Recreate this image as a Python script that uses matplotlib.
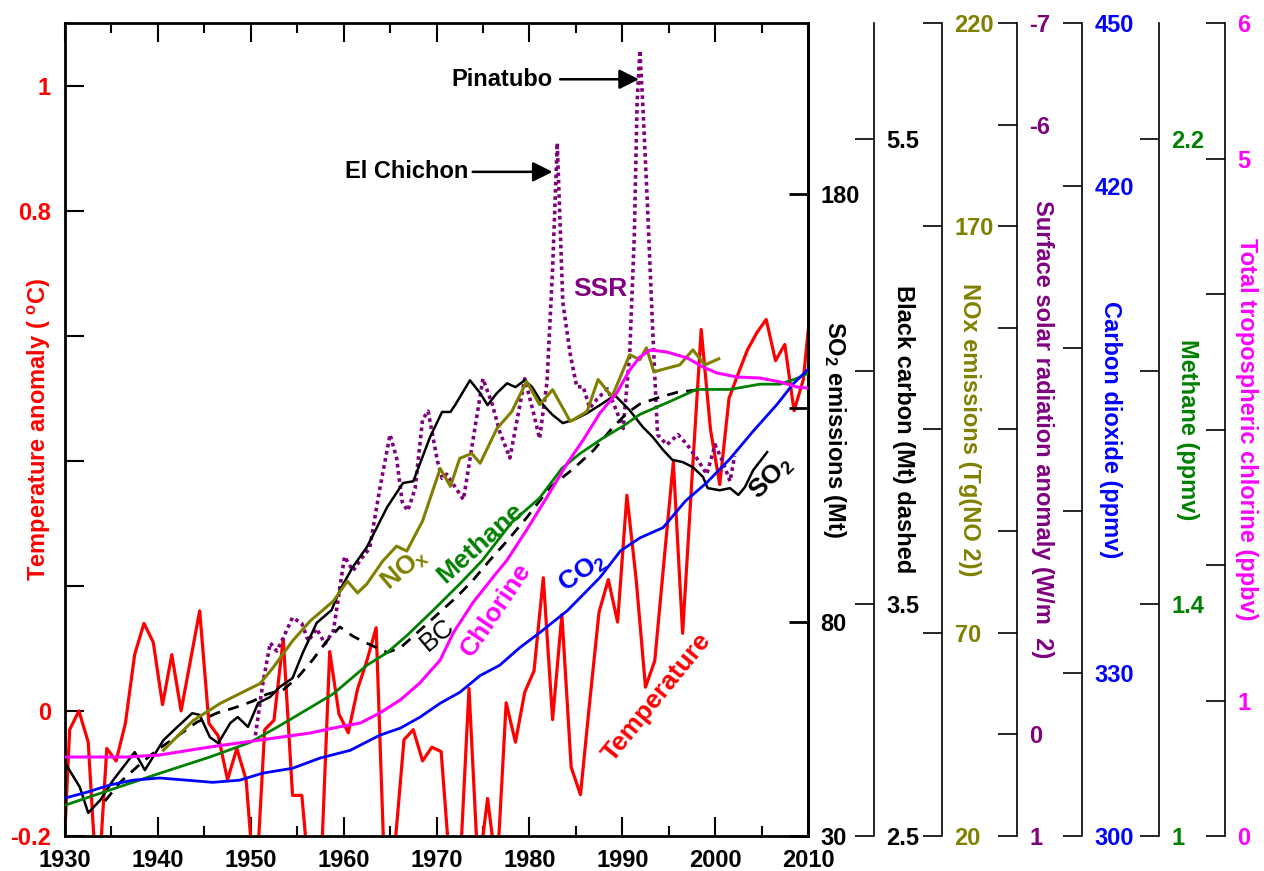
import numpy as np
import matplotlib
matplotlib.use('Agg')
import matplotlib.pyplot as plt
from matplotlib.ticker import FixedLocator, FixedFormatter, MultipleLocator

plt.rcParams['font.family'] = ['Liberation Sans', 'DejaVu Sans']
plt.rcParams['font.weight'] = 'bold'
plt.rcParams['axes.labelweight'] = 'bold'
plt.rcParams['mathtext.default'] = 'regular'

# --- data ---
# temperature anomaly (deg C), plotted at mid-year
temp_years = np.arange(1929.5, 2011.0, 1.0)
temp_vals = [-0.35,
             -0.03, 0.00, -0.05, -0.30, -0.06, -0.08, -0.02, 0.09, 0.14, 0.11,
             0.01, 0.09, 0.00, 0.08, 0.16, -0.02, -0.04, -0.11, -0.06, -0.11,
             -0.30, -0.03, -0.015, 0.115, -0.135, -0.135, -0.30, -0.28, 0.095, -0.005,
             -0.035, 0.035, 0.08, 0.133, -0.30, -0.22, -0.046, -0.03, -0.08, -0.058,
             -0.065, -0.26, -0.26, 0.036, -0.26, -0.14, -0.26, 0.013, -0.05, 0.03,
             0.064, 0.213, -0.014, 0.154, -0.09, -0.134, 0.015, 0.158, 0.21, 0.142,
             0.345, 0.21, 0.038, 0.08, 0.24, 0.398, 0.124, 0.37, 0.61, 0.45,
             0.362, 0.50, 0.54, 0.578, 0.605, 0.626, 0.56, 0.586, 0.48, 0.53,
             0.68]

# SO2 emissions (Mt)
so2_years = [1930.0, 1931.6, 1932.5, 1933.8, 1935.2, 1937.5, 1938.6, 1940.6, 1942.1, 1943.7,
             1944.5, 1945.6, 1946.5, 1947.8, 1948.6, 1949.7, 1950.8, 1952.1, 1953.1, 1954.5,
             1955.6, 1957.1, 1958.7, 1959.6, 1961.0, 1962.5, 1964.7, 1966.4, 1967.5, 1969.3,
             1970.6, 1971.5, 1972.0, 1973.6, 1974.7, 1975.5, 1976.5, 1977.6, 1978.5, 1979.5,
             1980.3, 1981.5, 1982.5, 1983.6, 1984.7, 1986.2, 1987.6, 1989.2, 1990.8, 1992.2,
             1993.3, 1994.4, 1995.4, 1996.5, 1997.6, 1998.7, 1999.2, 2000.5, 2001.6, 2002.5,
             2003.2, 2004.1, 2005.6]
so2_vals = [47.1, 41.4, 35.4, 38.4, 43.1, 49.6, 45.4, 52.4, 55.5, 58.7,
            58.3, 53.1, 51.7, 56.4, 57.8, 55.5, 61.1, 62.5, 64.8, 66.9,
            72.8, 79.8, 82.8, 87.5, 92.9, 97.5, 106.9, 112.5, 112.9, 123.2,
            129.1, 129.1, 130.7, 136.5, 133.5, 130.7, 133.5, 135.8, 134.9, 136.5,
            134.9, 130.7, 128.4, 126.5, 127.2, 128.8, 130.7, 133.0, 129.5, 125.6,
            123.2, 120.2, 117.9, 117.4, 116.2, 113.9, 111.3, 110.8, 111.3, 109.7,
            111.5, 115.5, 119.7]

# black carbon (Mt)
bc_years = [1934.3, 1935.9, 1938.1, 1939.9, 1942.1, 1944.2, 1946.4, 1948.1, 1950.2, 1951.7,
            1953.5, 1955.0, 1956.7, 1958.2, 1959.6, 1961.0, 1962.5, 1963.6, 1964.7, 1966.1,
            1967.5, 1972.2, 1973.9, 1975.8, 1977.6, 1979.7, 1982.2, 1984.7, 1986.9, 1989.0,
            1990.5, 1991.9, 1994.1, 1995.9, 1998.0]
bc_vals = [2.65, 2.73, 2.81, 2.87, 2.93, 2.99, 3.03, 3.05, 3.08, 3.11,
           3.13, 3.18, 3.26, 3.34, 3.40, 3.36, 3.33, 3.31, 3.29, 3.31,
           3.36, 3.53, 3.60, 3.69, 3.77, 3.87, 4.00, 4.08, 4.16, 4.26,
           4.32, 4.36, 4.39, 4.41, 4.42]

# NOx emissions (Tg NO2)
nox_years = [1940.6, 1943.8, 1946.7, 1948.8, 1951.0, 1952.4, 1954.5, 1956.4, 1958.9, 1960.4,
             1961.5, 1962.5, 1964.2, 1965.7, 1966.8, 1968.5, 1970.4, 1971.5, 1972.5, 1973.8,
             1974.7, 1976.5, 1978.1, 1979.7, 1981.1, 1982.5, 1984.4, 1986.2, 1987.4, 1988.9,
             1990.8, 1991.9, 1992.6, 1993.4, 1996.2, 1997.6, 1998.9, 2000.4]
nox_vals = [41.1, 48.4, 52.6, 55.0, 57.5, 61.4, 68.0, 72.9, 77.8, 82.7,
            79.8, 82.0, 87.6, 91.3, 90.1, 97.5, 110.4, 106.0, 112.9, 114.1,
            111.7, 120.2, 124.4, 131.8, 126.1, 129.8, 122.0, 124.4, 132.3, 128.1,
            138.4, 137.2, 140.1, 134.2, 135.9, 139.6, 135.9, 137.4]

# surface solar radiation anomaly (W/m2)
ssr_years = [1950.5, 1951.3, 1952.1, 1952.8, 1953.5, 1954.5, 1955.5, 1956.2, 1957.1, 1958.0,
             1958.9, 1960.1, 1961.0, 1962.0, 1962.8, 1963.9, 1965.0, 1965.7, 1966.3, 1966.9,
             1967.7, 1968.5, 1969.1, 1970.1, 1970.6, 1971.1, 1972.9, 1973.9, 1975.0, 1976.0,
             1976.8, 1977.9, 1979.0, 1979.5, 1980.4, 1981.1, 1981.9, 1982.5, 1983.0, 1983.6,
             1984.4, 1985.1, 1985.8, 1986.5, 1987.3, 1988.4, 1989.4, 1990.1, 1990.8, 1991.3,
             1991.6, 1991.9, 1992.2, 1992.7, 1993.3, 1993.8, 1994.8, 1996.0, 1997.0, 1998.0,
             1999.1, 2000.0, 2000.8, 2001.6, 2002.1]
ssr_vals = [0.01, -0.50, -0.90, -0.82, -0.95, -1.15, -1.09, -0.92, -1.04, -0.89,
            -1.02, -1.75, -1.61, -1.74, -1.83, -2.42, -2.95, -2.72, -2.29, -2.20,
            -2.42, -3.10, -3.18, -2.69, -2.52, -2.56, -2.31, -2.88, -3.50, -3.25,
            -2.98, -2.72, -3.25, -3.50, -3.18, -2.91, -3.47, -4.58, -5.82, -4.25,
            -3.74, -3.42, -3.42, -3.21, -3.30, -3.40, -3.18, -3.01, -3.74, -4.91,
            -6.22, -6.73, -6.22, -5.24, -3.93, -2.95, -2.85, -2.95, -2.85, -2.72,
            -2.56, -2.85, -2.69, -2.49, -2.74]

# carbon dioxide (ppmv)
co2_years = [1930.0, 1932.4, 1934.8, 1937.3, 1940.2, 1943.1, 1945.9, 1948.8, 1951.3, 1954.5,
             1957.5, 1960.7, 1963.9, 1966.1, 1968.2, 1970.4, 1972.5, 1974.7, 1976.8, 1979.0,
             1981.1, 1984.1, 1987.6, 1989.8, 1991.9, 1994.4, 1996.8, 1999.1, 2001.6, 2004.1,
             2006.7, 2008.4, 2010.0]
co2_vals = [307.0, 308.1, 309.4, 310.3, 310.7, 310.3, 309.9, 310.3, 311.6, 312.5,
            314.4, 315.8, 318.6, 319.9, 321.9, 324.5, 326.5, 329.6, 331.5, 334.8,
            337.5, 341.6, 347.7, 352.6, 355.0, 356.9, 361.8, 365.2, 369.6, 374.7,
            379.7, 383.4, 386.1]

# methane (ppmv)
ch4_years = [1930.0, 1934.8, 1940.2, 1945.6, 1949.9, 1952.8, 1956.4, 1958.9, 1962.5, 1964.7,
             1966.8, 1969.6, 1972.5, 1974.9, 1978.1, 1981.1, 1983.5, 1985.4, 1987.9, 1990.1,
             1991.9, 1995.1, 1998.0, 2001.6, 2004.8, 2007.0, 2008.8, 2010.0]
ch4_vals = [1.053, 1.079, 1.108, 1.136, 1.161, 1.187, 1.221, 1.245, 1.294, 1.316,
            1.345, 1.388, 1.434, 1.474, 1.540, 1.582, 1.633, 1.658, 1.685, 1.706,
            1.726, 1.748, 1.769, 1.769, 1.778, 1.778, 1.788, 1.797]

# total tropospheric chlorine (ppbv)
cl_years = [1930.0, 1936.7, 1940.2, 1945.6, 1951.0, 1956.4, 1958.9, 1961.8, 1963.9, 1966.1,
            1968.2, 1970.4, 1971.8, 1973.9, 1976.1, 1977.6, 1979.7, 1981.9, 1984.1, 1985.8,
            1987.6, 1989.4, 1990.8, 1991.9, 1993.0, 1994.8, 1997.0, 1998.7, 2000.2, 2002.4,
            2004.8, 2007.0, 2008.8, 2009.9]
cl_vals = [0.583, 0.583, 0.598, 0.657, 0.708, 0.760, 0.797, 0.834, 0.908, 1.004,
           1.129, 1.299, 1.498, 1.720, 1.911, 2.037, 2.258, 2.502, 2.753, 2.923,
           3.122, 3.269, 3.439, 3.535, 3.587, 3.572, 3.528, 3.461, 3.417, 3.387,
           3.380, 3.351, 3.314, 3.306]

# axis ticks and labels
temp_ticks = [-0.2, 0.0, 0.2, 0.4, 0.6, 0.8, 1.0]
temp_tick_labels = ['-0.2', '0', '', '', '', '0.8', '1']
so2_ticks = [30, 80, 130, 180]
so2_tick_labels = ['30', '80', '', '180']
bc_ticks = [2.5, 3.5, 4.5, 5.5]
bc_tick_labels = ['2.5', '3.5', '', '5.5']
nox_ticks = [20, 70, 120, 170, 220]
nox_tick_labels = ['20', '70', '', '170', '220']
ssr_ticks = [-7, -6, -5, -4, -3, -2, -1, 0, 1]
ssr_tick_labels = ['-7', '-6', '', '', '', '', '', '0', '1']
co2_ticks = [300, 330, 360, 390, 420, 450]
co2_tick_labels = ['300', '330', '', '', '420', '450']
ch4_ticks = [1.0, 1.4, 1.8, 2.2]
ch4_tick_labels = ['1', '1.4', '', '2.2']
cl_ticks = [0, 1, 2, 3, 4, 5, 6]
cl_tick_labels = ['0', '1', '', '', '', '5', '6']

RED = '#ff0000'
OLIVE = '#808000'
PURPLE = '#800080'
BLUE = '#0000ff'
GREEN = '#008000'
MAGENTA = '#ff00ff'
FS = 17

W, H = 1264, 871
fig = plt.figure(figsize=(W / 100, H / 100), dpi=100)
ax = fig.add_axes([65 / W, 1 - 836 / H, 743 / W, 813 / H])


def extra_axis(pos, ylim, ticks, labels, color, label, label_x, lw=1.2):
    tw = ax.twinx()
    for side in ['left', 'top', 'bottom']:
        tw.spines[side].set_visible(False)
    tw.spines['right'].set_position(('axes', pos))
    tw.spines['right'].set_linewidth(lw)
    tw.set_ylim(*ylim)
    tw.yaxis.set_major_locator(FixedLocator(ticks))
    tw.yaxis.set_major_formatter(FixedFormatter(labels))
    tw.tick_params(axis='y', direction='in', length=14, width=lw, pad=9,
                   labelcolor=color, labelsize=FS)
    tw.set_ylabel(label, color=color, fontsize=FS, rotation=270,
                  ha='center', va='center')
    tw.yaxis.set_label_coords(label_x, 0.5)
    return tw


# main temperature axis
ax.plot(temp_years, temp_vals, color=RED, lw=2.3)
ax.set_xlim(1930, 2010)
ax.set_ylim(-0.2, 1.1)
ax.xaxis.set_major_locator(MultipleLocator(10))
ax.xaxis.set_minor_locator(MultipleLocator(5))
ax.tick_params(axis='x', which='both', direction='in', top=True, bottom=True,
               width=1.5, labelsize=FS, pad=9)
ax.tick_params(axis='x', which='major', length=14)
ax.tick_params(axis='x', which='minor', length=7)
ax.yaxis.set_major_locator(FixedLocator(temp_ticks))
ax.yaxis.set_major_formatter(FixedFormatter(temp_tick_labels))
ax.tick_params(axis='y', direction='in', length=14, width=1.5, pad=10,
               labelcolor=RED, labelsize=FS, right=False)
for s in ax.spines.values():
    s.set_linewidth(2)
ax.set_ylabel('Temperature anomaly ( $^{o}$C)', color=RED, fontsize=FS,
              ha='center', va='center')
ax.yaxis.set_label_coords(-0.034, 0.5)

ax_ssr = extra_axis(1.2813, (1, -7), ssr_ticks, ssr_tick_labels, PURPLE,
                    'Surface solar radiation anomaly (W/m  2)', 1.315)
ax_ssr.plot(ssr_years, ssr_vals, color=PURPLE, lw=2.6, dashes=(1.0, 1.0))

ax_so2 = extra_axis(1.0, (30, 220), so2_ticks, so2_tick_labels, 'black',
                    'SO$_2$ emissions (Mt)', 1.0363, lw=2)
ax_so2.plot(so2_years, so2_vals, color='black', lw=1.8)

ax_bc = extra_axis(1.0888, (2.5, 6.0), bc_ticks, bc_tick_labels, 'black',
                   'Black carbon (Mt) dashed', 1.1279)
ax_bc.plot(bc_years, bc_vals, color='black', lw=2, dashes=(4, 3))

ax_nox = extra_axis(1.1804, (20, 220), nox_ticks, nox_tick_labels, OLIVE,
                    'NOx emissions (Tg(NO 2))', 1.218)
ax_nox.plot(nox_years, nox_vals, color=OLIVE, lw=2.2)

ax_ch4 = extra_axis(1.4724, (1, 2.4), ch4_ticks, ch4_tick_labels, GREEN,
                    'Methane (ppmv)', 1.5101)
ax_ch4.plot(ch4_years, ch4_vals, color=GREEN, lw=2)

ax_co2 = extra_axis(1.3688, (300, 450), co2_ticks, co2_tick_labels, BLUE,
                    'Carbon dioxide (ppmv)', 1.4065)
ax_co2.plot(co2_years, co2_vals, color=BLUE, lw=2)

ax_cl = extra_axis(1.5612, (0, 6), cl_ticks, cl_tick_labels, MAGENTA,
                   'Total tropospheric chlorine (ppbv)', 1.5908)
ax_cl.plot(cl_years, cl_vals, color=MAGENTA, lw=2.2)

# volcano annotations
arrow = dict(arrowstyle='-|>', color='black', lw=1.8, mutation_scale=30,
             shrinkA=0, shrinkB=0)
ax.text(1982.5, 1.01, 'Pinatubo', ha='right', va='center', fontsize=17)
ax.annotate('', xy=(1991.8, 1.01), xytext=(1983.3, 1.01), arrowprops=arrow)
ax.text(1973.4, 0.862, 'El Chichon', ha='right', va='center', fontsize=17)
ax.annotate('', xy=(1982.5, 0.862), xytext=(1973.9, 0.862), arrowprops=arrow)
ax.text(1987.6, 0.674, 'SSR', color=PURPLE, ha='center', va='center', fontsize=19)

# series labels along the curves
series_labels = [
    ('NO$_x$', 1966.6, 0.226, 40, OLIVE, 'bold'),
    ('Methane', 1974.7, 0.269, 42, GREEN, 'bold'),
    ('BC', 1970.05, 0.122, 40, 'black', 'normal'),
    ('Chlorine', 1976.4, 0.162, 56, MAGENTA, 'bold'),
    ('CO$_2$', 1985.7, 0.221, 35, BLUE, 'bold'),
    ('Temperature', 1993.7, 0.022, 51, RED, 'bold'),
    ('SO$_2$', 2006.1, 0.373, 45, 'black', 'bold'),
]
for txt, x, y, rot, col, wt in series_labels:
    ax.text(x, y, txt, color=col, rotation=rot, rotation_mode='anchor',
            ha='center', va='center', fontsize=19, fontweight=wt, zorder=10)

fig.savefig('out.png', dpi=100)
